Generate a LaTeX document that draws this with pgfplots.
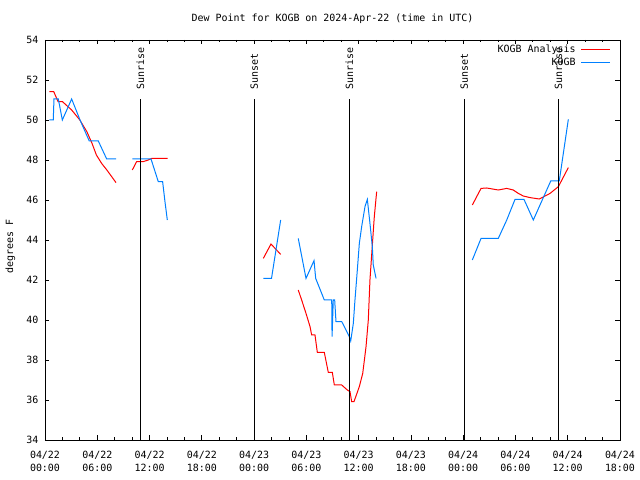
\documentclass[border=0pt]{standalone}
\usepackage{pgfplots}
\pgfplotsset{compat=1.18}
\usepackage{fontspec}
\setmainfont{DejaVu Sans Mono}
\definecolor{kred}{RGB}{255,0,0}
\definecolor{kblue}{RGB}{0,128,255}

\pgfplotstableread{
x y
0.5 51.42
1.0 51.42
1.5 50.92
2.0 50.92
3.06 50.5
4.0 50.0
4.8 49.42
5.4 48.83
5.9 48.25
6.5 47.83
7.1 47.5
7.65 47.17
8.15 46.87
nan nan
10.02 47.5
10.52 47.92
11.28 47.92
11.86 48.0
12.25 48.08
14.08 48.08
nan nan
25.06 43.08
25.94 43.8
27.05 43.28
nan nan
29.07 41.5
29.46 41.0
29.96 40.33
30.42 39.67
30.61 39.25
30.99 39.25
31.26 38.38
32.06 38.38
32.52 37.38
32.98 37.38
33.21 36.75
34.06 36.75
34.7 36.5
35.01 36.42
35.2 35.92
35.47 35.92
36.08 36.67
36.47 37.33
36.85 38.67
37.11 40.0
37.3 42.0
37.68 44.42
37.8 45.17
38.07 46.42
nan nan
49.05 45.75
50.05 46.58
50.7 46.6
52.03 46.5
53.0 46.58
53.75 46.5
54.33 46.33
54.9 46.2
55.67 46.12
56.74 46.05
57.97 46.33
58.93 46.67
60.07 47.62
}\analysis

\pgfplotstableread{
x y
0.49 50
0.95 50
1.03 51.05
1.53 51.05
1.99 50
3.06 51.05
4.02 50
5.08 48.95
6.12 48.95
7.08 48.05
8.15 48.05
nan nan
10.02 48.05
12.17 48.05
13.0 46.92
13.5 46.92
13.77 45.92
14.04 45.0
nan nan
25.06 42.08
26.0 42.08
27.05 45.0
nan nan
29.07 44.08
29.96 42.08
30.88 42.97
31.07 42.08
32.06 41.0
32.91 41.0
32.95 39.17
33.09 41.0
33.25 41.0
33.4 39.92
34.06 39.92
34.93 39.17
35.09 38.95
35.39 39.83
35.58 41.0
35.85 42.5
36.08 43.83
36.35 44.67
36.73 45.67
37.0 46.03
37.3 44.83
37.57 43.67
37.68 42.75
38.0 42.08
nan nan
49.05 43.0
50.05 44.08
52.03 44.08
53.0 45.0
53.95 46.03
54.98 46.03
56.05 45.0
58.05 46.95
59.03 46.95
60.07 50.03
}\obs

\begin{document}
\begin{tikzpicture}[font=\fontsize{10}{11.5}\selectfont]
\begin{axis}[
  at={(0,0)}, anchor=south west,
  scale only axis, width=575bp, height=400bp,
  xmin=0, xmax=66, ymin=34, ymax=54,
  xtick={0,6,...,66},
  minor x tick num=2,
  xticklabels={{04/22\\00:00},{04/22\\06:00},{04/22\\12:00},{04/22\\18:00},{04/23\\00:00},{04/23\\06:00},{04/23\\12:00},{04/23\\18:00},{04/24\\00:00},{04/24\\06:00},{04/24\\12:00},{04/24\\18:00}},
  ytick={34,36,...,54},
  tick align=inside,
  major tick length=4.5bp, minor tick length=2.5bp,
  axis line style={line width=0.8bp},
  every tick/.style={black, line width=0.8bp},
  /pgf/number format/assume math mode=true,
  xticklabel style={align=center, font=\fontsize{10}{13}\selectfont, inner sep=0pt, yshift=-10.5bp},
  yticklabel style={inner sep=0pt, xshift=-6.5bp},
  title={Dew Point for KOGB on 2024-Apr-22 (time in UTC)},
  every axis title/.style={at={(rel axis cs:0.5,1)}, yshift=21bp, anchor=center},
  ylabel={degrees F},
  every axis y label/.style={at={(rel axis cs:0,0.483)}, xshift=-34.5bp, rotate=90, anchor=center},
  unbounded coords=jump,
  legend plot pos=right,
  legend cell align=right,
  legend image code/.code={\draw[#1] (0bp,0bp) -- (29bp,0bp);},
  legend style={draw=none, fill=none, at={(rel axis cs:1,1)}, anchor=north east,
    xshift=-9bp, yshift=-2.5bp, inner sep=0pt, column sep=3bp,
    nodes={inner sep=2.2bp}, font=\fontsize{10}{11.5}\selectfont},
]
\addplot[kred, line width=1bp] table[x=x, y=y] {\analysis};
\addlegendentry{KOGB Analysis}
\addplot[kblue, line width=1bp] table[x=x, y=y] {\obs};
\addlegendentry{KOGB}

\addplot[black, line width=1bp, forget plot] coordinates {(10.94,34) (10.94,51.05)};
\addplot[black, line width=1bp, forget plot] coordinates {(24.02,34) (24.02,51.05)};
\addplot[black, line width=1bp, forget plot] coordinates {(34.93,34) (34.93,51.05)};
\addplot[black, line width=1bp, forget plot] coordinates {(48.13,34) (48.13,51.05)};
\addplot[black, line width=1bp, forget plot] coordinates {(58.92,34) (58.92,51.05)};

\node[rotate=90, anchor=west, inner sep=0pt, xshift=2bp] at (axis cs:10.94,51.42) {Sunrise};
\node[rotate=90, anchor=west, inner sep=0pt, xshift=2bp] at (axis cs:24.02,51.42) {Sunset};
\node[rotate=90, anchor=west, inner sep=0pt, xshift=2bp] at (axis cs:34.93,51.42) {Sunrise};
\node[rotate=90, anchor=west, inner sep=0pt, xshift=2bp] at (axis cs:48.13,51.42) {Sunset};
\node[rotate=90, anchor=west, inner sep=0pt, xshift=2bp] at (axis cs:58.92,51.42) {Sunrise};
\coordinate (ll) at (rel axis cs:0,0);
\end{axis}
\pgfresetboundingbox
\path (ll) ++(-45bp,-40bp) rectangle ++(640bp,480bp);
\end{tikzpicture}
\end{document}
